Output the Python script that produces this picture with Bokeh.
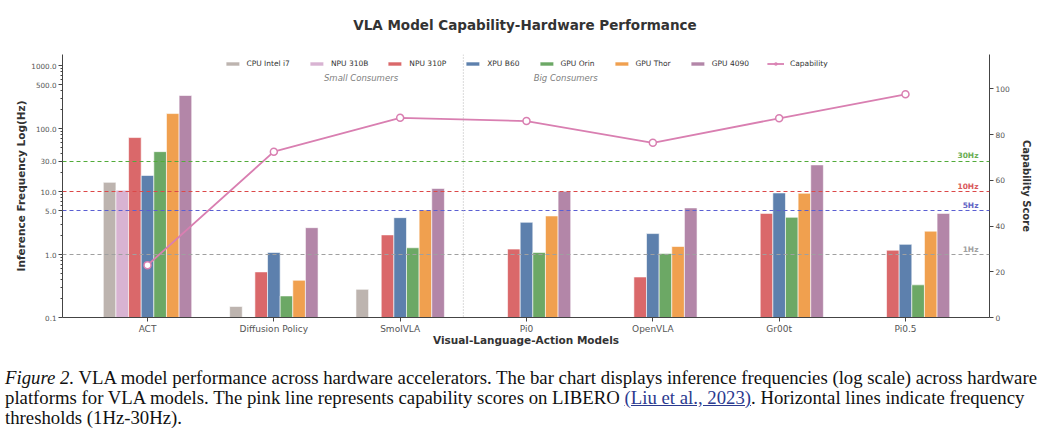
import math
from bokeh.plotting import figure
from bokeh.models import (Range1d, LinearAxis, LinearScale, FixedTicker, CustomJSTickFormatter,
                          Span, Label, Legend, LegendItem, Div)
from bokeh.layouts import column
from bokeh.embed import file_html
from bokeh.resources import INLINE

NaN = float("nan")

# ---------------- data ----------------
models = ["ACT", "Diffusion Policy", "SmolVLA", "Pi0", "OpenVLA", "Gr00t", "Pi0.5"]
hardware = ["CPU Intel i7", "NPU 310B", "NPU 310P", "XPU B60", "GPU Orin", "GPU Thor", "GPU 4090"]

cpu_i7   = [14.0, 0.15, 0.28, NaN, NaN, NaN, NaN]
npu_310b = [10.5, NaN, NaN, NaN, NaN, NaN, NaN]
npu_310p = [72.0, 0.53, 2.05, 1.22, 0.44, 4.5, 1.17]
xpu_b60  = [18.0, 1.08, 3.85, 3.25, 2.15, 9.5, 1.45]
gpu_orin = [43.0, 0.22, 1.28, 1.08, 1.04, 3.9, 0.33]
gpu_thor = [173.0, 0.39, 5.1, 4.1, 1.34, 9.4, 2.35]
gpu_4090 = [335.0, 2.67, 11.2, 10.1, 5.5, 26.5, 4.5]

capability = [22.9, 72.5, 87.3, 85.9, 76.4, 87.1, 97.6]

thresholds = [30, 10, 5, 1]
threshold_labels = ["30Hz", "10Hz", "5Hz", "1Hz"]

freq_ticks = [0.1, 1, 5, 10, 30, 100, 500, 1000]
cap_ticks = [0, 20, 40, 60, 80, 100]
group_labels = ["Small Consumers", "Big Consumers"]
title_text = "VLA Model Capability-Hardware Performance"

# ---------------- styles ----------------
FONT = "DejaVu Sans"
bar_colors = ["#bdb4af", "#d8b3d2", "#da686a", "#5d80ad", "#6ca865", "#f0a04f", "#b386a8"]
cap_color = "#d97fb1"
thr_colors = ["#6aae52", "#d9595a", "#5f63c4", "#a0a0a0"]
thr_line_colors = ["#52ab3a", "#dc4848", "#5a5fd2", "#a0a0a0"]
series = [cpu_i7, npu_310b, npu_310p, xpu_b60, gpu_orin, gpu_thor, gpu_4090]

title_div = Div(width=1047, height=40, margin=(0, 0, 0, 0), text=(
    "<div style=\"width:1047px; box-sizing:border-box; padding-left:3px; padding-top:17px; "
    "text-align:center; font-family:'DejaVu Sans'; font-weight:bold; font-size:13.5px; "
    "line-height:16px; color:#333333; white-space:nowrap;\">" + title_text + "</div>"))

p = figure(width=1047, height=310, output_backend="svg", toolbar_location=None,
           y_axis_type="log", x_range=Range1d(-0.673, 6.665), y_range=Range1d(0.1, 1500),
           min_border_left=62, min_border_right=58, min_border_top=14, min_border_bottom=33)
p.extra_y_ranges = {"cap": Range1d(0, 115)}
p.extra_y_scales = {"cap": LinearScale()}
p.outline_line_color = None
p.grid.visible = False
p.background_fill_color = "white"
p.border_fill_color = "white"

# bars
bar_width = 0.1
legend_items = []
for j, (name, vals, col) in enumerate(zip(hardware, series, bar_colors)):
    xs, tops = [], []
    for i, v in enumerate(vals):
        if not math.isnan(v):
            xs.append(i + (j - 3) * bar_width)
            tops.append(v)
    r = p.vbar(x=xs, top=tops, bottom=0.1, width=bar_width, fill_color=col,
               line_color="white", line_width=0.6)
    legend_items.append(LegendItem(label=name, renderers=[r]))

# thresholds
for t, lab, col, lcol in zip(thresholds, threshold_labels, thr_colors, thr_line_colors):
    p.add_layout(Span(location=t, dimension="width", line_color=lcol, line_dash="4 3",
                      line_width=1.1, line_alpha=1.0))
    p.add_layout(Label(x=6.578, y=t, text=lab, text_align="right", text_baseline="bottom",
                       y_offset=1, text_font=FONT, text_font_size="7.5px",
                       text_font_style="bold", text_color=col))

# divider
p.add_layout(Span(location=2.5, dimension="height", line_color="#b5b5b5",
                  line_dash="1 2", line_width=1))
for gx, gl in zip([1.69, 3.31], group_labels):
    p.add_layout(Label(x=gx, y=634, text=gl, text_align="center", text_baseline="middle",
                       text_font=FONT, text_font_size="8.5px", text_font_style="italic",
                       text_color="#808080"))

# capability line
xs_cap = list(range(len(models)))
lr = p.line(x=xs_cap, y=capability, y_range_name="cap", line_color=cap_color, line_width=1.8)
sr = p.scatter(x=xs_cap, y=capability, y_range_name="cap", marker="circle", size=7,
               fill_color="white", line_color=cap_color, line_width=1.5)
legend_items.append(LegendItem(label="Capability", renderers=[lr, sr]))

legend = Legend(items=legend_items, orientation="horizontal", location="top_center",
                label_text_font=FONT, label_text_font_size="7.5px", label_text_color="#333333",
                glyph_width=17, glyph_height=5, label_standoff=6, spacing=18,
                padding=0, margin=5, background_fill_alpha=0, border_line_color=None,
                label_height=9)
p.add_layout(legend)

# axes
ax = p.xaxis[0]
ax.ticker = FixedTicker(ticks=xs_cap)
ax.major_label_overrides = {i: m for i, m in enumerate(models)}
ax.axis_label = "Visual-Language-Action Models"
ax.minor_tick_line_color = None

ly = p.yaxis[0]
minor = [k * 10 ** e for e in range(-1, 3) for k in range(2, 10)]
ly.ticker = FixedTicker(ticks=freq_ticks, minor_ticks=minor)
ly.formatter = CustomJSTickFormatter(code="return tick.toFixed(1);")
ly.axis_label = "Inference Frequency Log(Hz)"

ry = LinearAxis(y_range_name="cap", ticker=FixedTicker(ticks=cap_ticks),
                axis_label="Capability Score")
p.add_layout(ry, "right")

for a in [ax, ly, ry]:
    a.axis_line_color = "#444444"
    a.axis_line_width = 1
    a.major_tick_line_color = "#444444"
    a.major_tick_out = 4
    a.major_tick_in = 0
    a.major_label_text_font = FONT
    a.major_label_text_color = "#555555"
    a.axis_label_text_font = FONT
    a.axis_label_text_font_style = "bold"
    a.axis_label_text_color = "#333333"
    a.major_label_standoff = 2

ax.major_label_text_font_size = "9px"
ax.axis_label_text_font_size = "10.5px"
ax.axis_label_standoff = -3
ly.major_label_text_font_size = "7.2px"
ly.axis_label_text_font_size = "10.5px"
ly.axis_label_standoff = 1
ly.minor_tick_line_color = "#444444"
ly.minor_tick_out = 2
ly.minor_tick_in = 0
ry.major_label_text_font_size = "7.5px"
ry.axis_label_text_font_size = "10px"
ry.axis_label_standoff = 8

caption = Div(width=1047, height=95, text=(
    "<div style=\"font-family:'Liberation Serif','Times New Roman',serif; font-size:18.75px; "
    "line-height:20px; color:#111; white-space:nowrap; padding-top:13px;\">"
    "<i>Figure 2.</i> VLA model performance across hardware accelerators. The bar chart displays "
    "inference frequencies (log scale) across hardware<br>"
    "platforms for VLA models. The pink line represents capability scores on LIBERO "
    "<span style=\"color:#2b3a8f; text-decoration:underline;\">(Liu et al., 2023)</span>. "
    "Horizontal lines indicate frequency<br>thresholds (1Hz-30Hz).</div>"))

layout = column(title_div, p, caption)
open("out.html", "w").write(file_html(layout, INLINE))
